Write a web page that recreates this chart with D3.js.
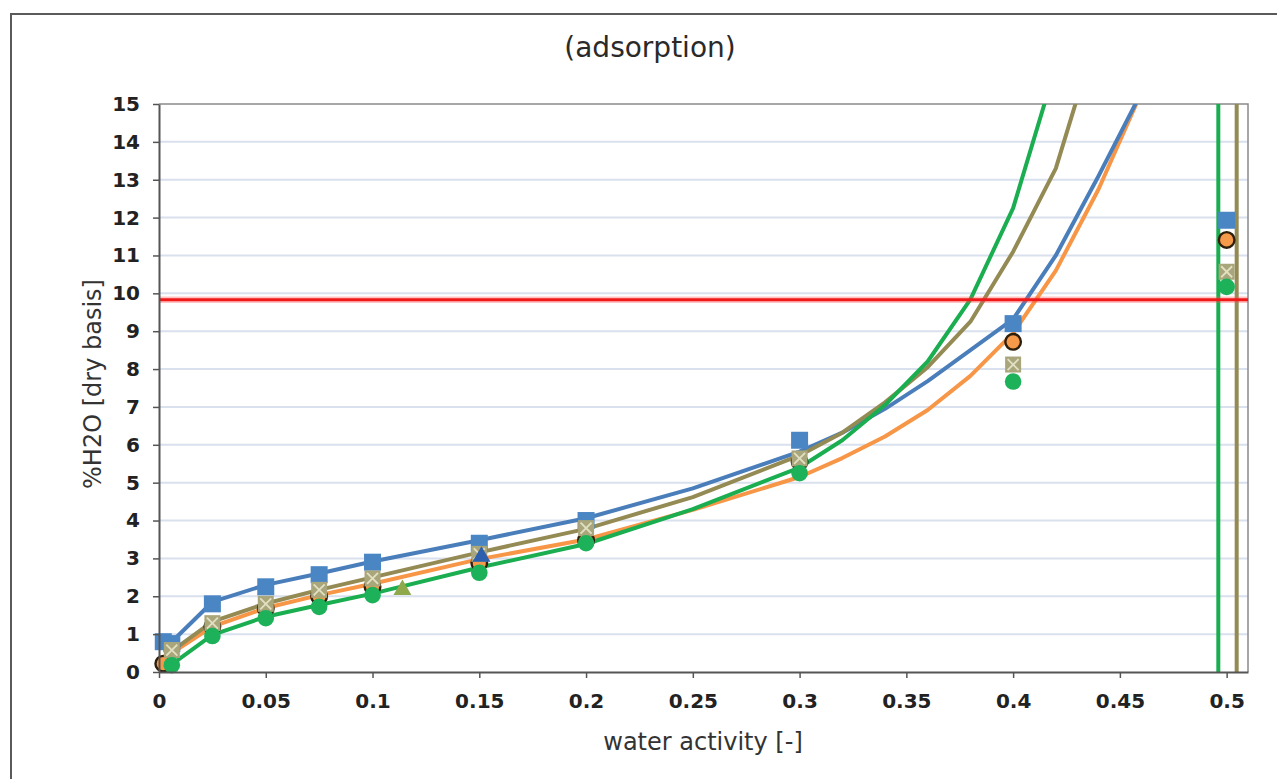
<!DOCTYPE html>
<html>
<head>
<meta charset="utf-8">
<script src="https://cdn.jsdelivr.net/npm/d3@7"></script>
<style>
  html, body { margin: 0; padding: 0; background: #ffffff; }
  svg { display: block; }
  text { font-family: "DejaVu Sans", Verdana, sans-serif; }
</style>
</head>
<body>
<script>
// ---------------- data ----------------
const titleText = "(adsorption)";
const xTitle = "water activity [-]";
const yTitle = "%H2O [dry basis]";

const xTicks = [0, 0.05, 0.1, 0.15, 0.2, 0.25, 0.3, 0.35, 0.4, 0.45, 0.5];
const xTickLabels = ["0", "0.05", "0.1", "0.15", "0.2", "0.25", "0.3", "0.35", "0.4", "0.45", "0.5"];
const yTicks = [0, 1, 2, 3, 4, 5, 6, 7, 8, 9, 10, 11, 12, 13, 14, 15];
const yTickLabels = ["0", "1", "2", "3", "4", "5", "6", "7", "8", "9", "10", "11", "12", "13", "14", "15"];

// fitted curves
const blueCurveAw = [0.002, 0.006, 0.025, 0.05, 0.075, 0.1, 0.15, 0.2, 0.25, 0.3, 0.32, 0.34, 0.36, 0.38, 0.4, 0.42, 0.44, 0.46, 0.48];
const blueCurve   = [0.8, 0.8, 1.85, 2.3, 2.6, 2.92, 3.48, 4.06, 4.85, 5.82, 6.32, 6.95, 7.68, 8.5, 9.32, 11.0, 13.1, 15.3, 19];

const orangeCurveAw = [0.002, 0.006, 0.025, 0.05, 0.075, 0.1, 0.15, 0.2, 0.25, 0.3, 0.32, 0.34, 0.36, 0.38, 0.4, 0.42, 0.44, 0.46, 0.48];
const orangeCurve   = [0.22, 0.5, 1.2, 1.69, 2.03, 2.33, 2.98, 3.5, 4.28, 5.15, 5.65, 6.22, 6.92, 7.82, 8.95, 10.6, 12.75, 15.3, 19];

const oliveCurveAw = [0.006, 0.025, 0.05, 0.075, 0.1, 0.15, 0.2, 0.25, 0.3, 0.32, 0.34, 0.36, 0.38, 0.4, 0.42, 0.44, 0.46, 0.48, 0.5, 0.5046, 0.5048, 0.51];
const oliveCurve   = [0.55, 1.33, 1.81, 2.17, 2.5, 3.16, 3.78, 4.62, 5.72, 6.32, 7.12, 8.05, 9.25, 11.1, 13.3, 17, 25, 60, 400, 5000, -5000, -800];

const greenCurveAw = [0.006, 0.025, 0.05, 0.075, 0.1, 0.15, 0.2, 0.25, 0.3, 0.32, 0.34, 0.36, 0.38, 0.4, 0.42, 0.44, 0.46, 0.48, 0.496, 0.4962, 0.51];
const greenCurve   = [0.2, 0.98, 1.46, 1.77, 2.07, 2.76, 3.38, 4.3, 5.4, 6.12, 7.05, 8.2, 9.84, 12.25, 16, 24, 40, 90, 5000, -5000, -300];

// measured points
const blueSquareAw = [0.002, 0.006, 0.025, 0.05, 0.075, 0.1, 0.15, 0.2, 0.3, 0.4, 0.5];
const blueSquare   = [0.8, 0.75, 1.8, 2.25, 2.57, 2.9, 3.4, 4.0, 6.12, 9.2, 11.93];

const orangeCircleAw = [0.002, 0.025, 0.05, 0.075, 0.1, 0.15, 0.2, 0.3, 0.4, 0.5];
const orangeCircle   = [0.22, 1.2, 1.68, 2.0, 2.25, 2.88, 3.48, 5.55, 8.72, 11.41];

const oliveCrossAw = [0.006, 0.025, 0.05, 0.075, 0.1, 0.15, 0.2, 0.3, 0.4, 0.5];
const oliveCross   = [0.58, 1.29, 1.8, 2.17, 2.47, 3.12, 3.8, 5.64, 8.12, 10.57];

const greenCircleAw = [0.006, 0.025, 0.05, 0.075, 0.1, 0.15, 0.2, 0.3, 0.4, 0.5];
const greenCircle   = [0.18, 0.95, 1.42, 1.72, 2.03, 2.62, 3.4, 5.25, 7.67, 10.17];

const olivTriangleAw = [0.114];
const olivTriangle   = [2.17];
const blueTriangleAw = [0.151];
const blueTriangle   = [3.05];

const limitLine = [9.83];

// ---------------- drawing ----------------
const W = 1277, H = 779;
const plot = { left: 159, right: 1248, top: 104, bottom: 672 };

const x = d3.scaleLinear().domain([0, 0.51]).range([plot.left, plot.right]);
const y = d3.scaleLinear().domain([0, 15]).range([plot.bottom, plot.top]);

const svg = d3.select("body").append("svg").attr("width", W).attr("height", H);
svg.append("rect").attr("width", W).attr("height", H).attr("fill", "#fff");

// outer frame
svg.append("rect").attr("x", 11).attr("y", 14).attr("width", 1300).attr("height", 800)
  .attr("fill", "none").attr("stroke", "#5a5a5a").attr("stroke-width", 2);

// title
svg.append("text").attr("x", 650).attr("y", 57).attr("text-anchor", "middle")
  .attr("font-size", 28).attr("fill", "#2a2a2a").text(titleText);

// gridlines
svg.append("g").selectAll("line").data(yTicks.filter(d => d > 0 && d < 15)).join("line")
  .attr("x1", plot.left).attr("x2", plot.right)
  .attr("y1", d => y(d)).attr("y2", d => y(d))
  .attr("stroke", "#d9e0ee").attr("stroke-width", 2);

// plot border top/right
svg.append("path")
  .attr("d", `M${plot.left},${plot.top}H${plot.right}V${plot.bottom}`)
  .attr("fill", "none").attr("stroke", "#8a8a8a").attr("stroke-width", 1.5);

// clip
svg.append("clipPath").attr("id", "clip").append("rect")
  .attr("x", plot.left).attr("y", plot.top)
  .attr("width", plot.right - plot.left).attr("height", plot.bottom - plot.top);

const lineGen = d3.line().x(d => x(d[0])).y(d => y(d[1]));
const zip = (a, b) => a.map((v, i) => [v, b[i]]);

const curves = [
  { aw: orangeCurveAw, v: orangeCurve, color: "#f79646" },
  { aw: blueCurveAw, v: blueCurve, color: "#4a7ebb" },
  { aw: oliveCurveAw, v: oliveCurve, color: "#948a54" },
  { aw: greenCurveAw, v: greenCurve, color: "#1aae50" }
];
const gl = svg.append("g").attr("clip-path", "url(#clip)");
curves.forEach(c => {
  gl.append("path").datum(zip(c.aw, c.v)).attr("d", lineGen)
    .attr("fill", "none").attr("stroke", c.color).attr("stroke-width", 4)
    .attr("stroke-linejoin", "round");
});

// red limit line
gl.selectAll("line.limit").data(limitLine).join("line").attr("class", "limit")
  .attr("x1", plot.left).attr("x2", plot.right)
  .attr("y1", d => y(d)).attr("y2", d => y(d))
  .attr("stroke", "#ff5050").attr("stroke-opacity", 0.35).attr("stroke-width", 6.5);
gl.selectAll("line.limit2").data(limitLine).join("line").attr("class", "limit2")
  .attr("x1", plot.left).attr("x2", plot.right)
  .attr("y1", d => y(d)).attr("y2", d => y(d))
  .attr("stroke", "#f01818").attr("stroke-width", 3.2);

// markers
const gm = svg.append("g");
gm.selectAll("rect.bsq").data(zip(blueSquareAw, blueSquare)).join("rect").attr("class", "bsq")
  .attr("x", d => x(d[0]) - 8.5).attr("y", d => y(d[1]) - 8.5)
  .attr("width", 17).attr("height", 17).attr("fill", "#4a86c4");

gm.selectAll("circle.oc").data(zip(orangeCircleAw, orangeCircle)).join("circle").attr("class", "oc")
  .attr("cx", d => x(d[0])).attr("cy", d => y(d[1])).attr("r", 7.8)
  .attr("fill", "#f59a4a").attr("stroke", "#2e1e0c").attr("stroke-width", 2.4);

const gx = gm.selectAll("g.ox").data(zip(oliveCrossAw, oliveCross)).join("g").attr("class", "ox")
  .attr("transform", d => `translate(${x(d[0])},${y(d[1])})`);
gx.append("rect").attr("x", -8).attr("y", -8).attr("width", 16).attr("height", 16).attr("fill", "#aaa67c");
gx.append("path").attr("d", "M-5.5,-5.5L5.5,5.5M5.5,-5.5L-5.5,5.5").attr("stroke", "#e2e0c2").attr("stroke-width", 1.8);

gm.selectAll("circle.gc").data(zip(greenCircleAw, greenCircle)).join("circle").attr("class", "gc")
  .attr("cx", d => x(d[0])).attr("cy", d => y(d[1])).attr("r", 8.3)
  .attr("fill", "#1db15a");

const tri = d3.symbol().type(d3.symbolTriangle).size(140);
gm.selectAll("path.ot").data(zip(olivTriangleAw, olivTriangle)).join("path").attr("class", "ot")
  .attr("d", tri).attr("transform", d => `translate(${x(d[0])},${y(d[1])})`)
  .attr("fill", "#8fa84c");
gm.selectAll("path.bt").data(zip(blueTriangleAw, blueTriangle)).join("path").attr("class", "bt")
  .attr("d", tri).attr("transform", d => `translate(${x(d[0])},${y(d[1])})`)
  .attr("fill", "#2c5fae");

// axes
const xAxis = d3.axisBottom(x).tickValues(xTicks).tickFormat((d, i) => xTickLabels[i])
  .tickSizeInner(6).tickSizeOuter(0).tickPadding(16);
const yAxis = d3.axisLeft(y).tickValues(yTicks).tickFormat((d, i) => yTickLabels[i])
  .tickSizeInner(6).tickSizeOuter(0).tickPadding(13);

const gxAxis = svg.append("g").attr("transform", `translate(0,${plot.bottom})`).call(xAxis);
const gyAxis = svg.append("g").attr("transform", `translate(${plot.left},0)`).call(yAxis);
[gxAxis, gyAxis].forEach(g => {
  g.select(".domain").attr("stroke", "#555").attr("stroke-width", 2);
  g.selectAll(".tick line").attr("stroke", "#555").attr("stroke-width", 1.5);
  g.selectAll(".tick text").attr("font-family", "'DejaVu Sans', Verdana, sans-serif")
    .attr("font-size", 20).attr("font-weight", "bold").attr("fill", "#222");
});

// axis titles
svg.append("text").attr("x", 703).attr("y", 750).attr("text-anchor", "middle")
  .attr("font-size", 24).attr("fill", "#333").text(xTitle);
svg.append("text").attr("transform", "translate(101,384) rotate(-90)").attr("text-anchor", "middle")
  .attr("font-size", 24).attr("fill", "#333").text(yTitle);
</script>
</body>
</html>
